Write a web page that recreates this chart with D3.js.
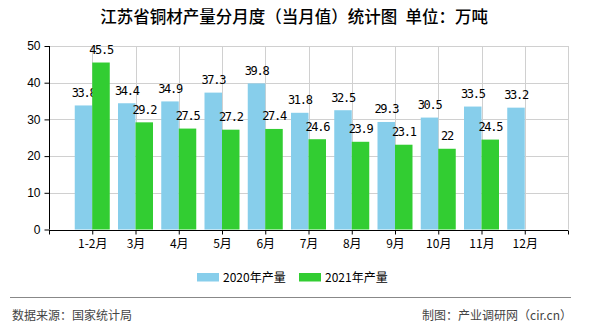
<!DOCTYPE html>
<html><head><meta charset="utf-8">
<script src="https://cdn.jsdelivr.net/npm/d3@7"></script>
<style>body{margin:0;background:#fff}svg{display:block}</style>
</head><body>
<script>
const categories = ["1-2月","3月","4月","5月","6月","7月","8月","9月","10月","11月","12月"];
const series2020 = [33.8,34.4,34.9,37.3,39.8,31.8,32.5,29.3,30.5,33.5,33.2];
const series2021 = [45.5,29.2,27.5,27.2,27.4,24.6,23.9,23.1,22,24.5,null];
const yTicks = [0,10,20,30,40,50];
const seriesNames = ["2020年产量","2021年产量"];
const colors = ["#87CEEB","#32CD32"];
const title = "江苏省铜材产量分月度（当月值）统计图\u2002单位：万吨";

(function(){
const W=590,H=330;
const svg=d3.select("body").append("svg").attr("width",W).attr("height",H);
const pLeft=49,pRight=568,pTop=46,pBottom=229.5;
const xi=d3.scaleLinear().domain([0,12]).range([pLeft,pRight]);
const y=d3.scaleLinear().domain([0,50]).range([pBottom,pTop]);

// grid
const g=svg.append("g");
g.selectAll(".hg").data(yTicks.filter(d=>d>0)).enter().append("line")
 .attr("x1",pLeft).attr("x2",pRight).attr("y1",d=>Math.round(y(d))+0.5).attr("y2",d=>Math.round(y(d))+0.5)
 .attr("stroke","#d0d0d0").attr("stroke-width",1);
g.selectAll(".vg").data(d3.range(1,13)).enter().append("line")
 .attr("x1",d=>Math.round(xi(d))+0.5).attr("x2",d=>Math.round(xi(d))+0.5).attr("y1",pTop).attr("y2",pBottom)
 .attr("stroke","#d0d0d0").attr("stroke-width",1);

// bars
const bw=17.5;
const bars=svg.append("g");
categories.forEach((c,i)=>{
  const cx=xi(i+1);
  [series2020[i],series2021[i]].forEach((v,s)=>{
    if(v==null) return;
    const x0= s===0? cx-bw : cx;
    bars.append("rect").attr("x",x0).attr("y",y(v)).attr("width",bw).attr("height",y(0)-y(v)).attr("fill",colors[s]);
    bars.append("text").attr("x",x0+bw/2).attr("y",y(v)-8.5).attr("text-anchor","middle")
      .attr("font-family","DejaVu Sans Mono, Liberation Mono, monospace").attr("font-size",12)
      .attr("letter-spacing",-1.3).attr("fill","#000").text(String(v));
  });
});

// axes
const ya=d3.axisLeft(y).tickValues(yTicks).tickSize(5).tickPadding(4).tickFormat(d3.format("d"));
const yg=svg.append("g").attr("transform",`translate(${pLeft+0.5},0)`).call(ya);
yg.selectAll("text").attr("font-family","Liberation Sans, Arial, sans-serif").attr("font-size",12).attr("fill","#000");
yg.selectAll("line,path").attr("stroke","#000");
yg.select(".domain").attr("d",`M0,${pTop}V${pBottom}`);

const xa=d3.axisBottom(xi).tickValues(d3.range(0,13)).tickSize(4).tickPadding(5)
 .tickFormat(d=> d>=1&&d<=11? categories[d-1] : "");
const xg=svg.append("g").attr("transform",`translate(0,${Math.round(pBottom)+0.5})`).call(xa);
xg.selectAll("text").attr("font-family","Noto Sans CJK SC, sans-serif").attr("font-size",12).attr("fill","#000");
xg.selectAll("line,path").attr("stroke","#000");
xg.select(".domain").attr("d",`M${pLeft},0H${pRight}`);

// title
svg.append("text").attr("x",294).attr("y",23).attr("text-anchor","middle")
 .attr("font-family","Noto Sans CJK SC, sans-serif").attr("font-size",16.5).attr("font-weight",500).attr("fill","#000").text(title);

// legend
const lg=svg.append("g");
const lx=[197,299];
seriesNames.forEach((n,i)=>{
  lg.append("rect").attr("x",lx[i]).attr("y",273).attr("width",22).attr("height",8.5).attr("fill",colors[i]);
  lg.append("text").attr("x",lx[i]+26).attr("y",282).attr("font-family","Noto Sans CJK SC, sans-serif")
    .attr("font-size",12).attr("fill","#000").text(n);
});

// footer
svg.append("line").attr("x1",10).attr("x2",571).attr("y1",297.5).attr("y2",297.5).attr("stroke","#888").attr("stroke-width",1.2);
svg.append("text").attr("x",12).attr("y",320).attr("font-family","Noto Sans CJK SC, sans-serif").attr("font-size",12).attr("fill","#444").text("数据来源：国家统计局");
svg.append("text").attr("x",572).attr("y",320).attr("text-anchor","end").attr("font-family","Noto Sans CJK SC, sans-serif").attr("font-size",12).attr("fill","#444").text("制图：产业调研网（cir.cn）");
})();
</script>
</body></html>
